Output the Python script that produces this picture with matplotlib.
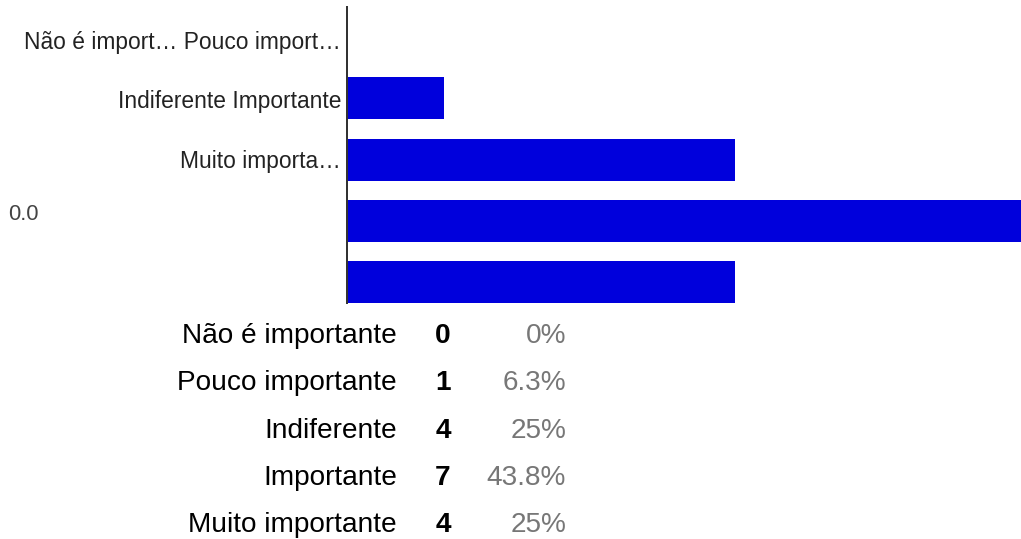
import matplotlib
matplotlib.use("Agg")
import matplotlib.pyplot as plt

# Response summary
categories = ["Não é importante", "Pouco importante", "Indiferente", "Importante", "Muito importante"]
counts = [0, 1, 4, 7, 4]
percent_labels = ["0%", "6.3%", "25%", "43.8%", "25%"]

# Labels printed beside the bars (truncated as rendered by the form tool)
side_labels = ["Não é import… Pouco import…", "Indiferente Importante", "Muito importa…"]
side_label_rows = [0, 1, 2]
axis_value_label = "0.0"

W, H = 1021, 539
DPI = 100
BAR_COLOR = "#0000DC"
FONT = ["Liberation Sans", "DejaVu Sans"]
plt.rcParams["font.family"] = FONT

fig = plt.figure(figsize=(W / DPI, H / DPI), dpi=DPI)
fig.patch.set_facecolor("white")


def fx(px):
    return px / W


def fy(py):
    return 1 - py / H


def pt(px):
    return px * 72 / DPI


# Bar plot area
ax_left, ax_right, ax_top, ax_bottom = 347, 1021, 7, 303
ax = fig.add_axes([fx(ax_left), fy(ax_bottom), fx(ax_right - ax_left), (ax_bottom - ax_top) / H])

positions = list(range(len(categories)))
ax.barh(positions, counts, height=0.685, color=BAR_COLOR, edgecolor="none")

ax.set_xlim(0, (ax_right - ax_left) / 97.0)
ax.set_ylim(4.34, -0.49)
for side in ("top", "right", "bottom"):
    ax.spines[side].set_visible(False)
ax.spines["left"].set_color("#333333")
ax.spines["left"].set_linewidth(pt(2))
ax.set_xticks([])
ax.set_yticks([])
ax.set_facecolor("none")

# Side labels, positioned on the bar rows
row_px = [37 + 61.3 * i for i in range(len(categories))]
label_offsets = [5, 3, 2]
for text, row, off in zip(side_labels, side_label_rows, label_offsets):
    fig.text(fx(341), fy(row_px[row] + off), text, ha="right", va="center",
             fontsize=pt(22.8), color="#222222")
fig.text(fx(8), fy(214), axis_value_label, ha="left", va="center",
         fontsize=pt(22), color="#444444")

# Summary table under the chart
table_y0, table_dy = 336, 47.3
for i, (cat, n, pct) in enumerate(zip(categories, counts, percent_labels)):
    y = fy(table_y0 + table_dy * i)
    fig.text(fx(397), y, cat, ha="right", va="center", fontsize=pt(28), color="#000000")
    fig.text(fx(443), y, str(n), ha="center", va="center", fontsize=pt(28),
             color="#000000", fontweight="bold")
    fig.text(fx(566), y, pct, ha="right", va="center", fontsize=pt(28), color="#777777")

fig.savefig("out.png", dpi=DPI, facecolor="white")
